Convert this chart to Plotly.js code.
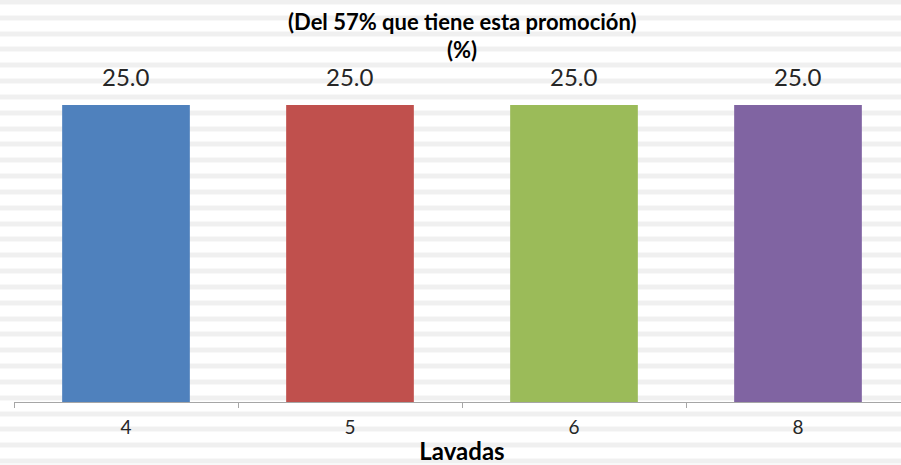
<!DOCTYPE html>
<html>
<head>
<meta charset="utf-8">
<script src="https://cdn.plot.ly/plotly-3.0.1.min.js"></script>
<style>
  html, body { margin: 0; padding: 0; width: 901px; height: 465px; overflow: hidden;
    background: repeating-linear-gradient(to bottom, #f0f0f0 0px, #f0f0f0 5px, #ffffff 5px, #ffffff 15.83px);
    background-position: 0 -0.5px; }
  #chart { width: 910px; height: 465px; }
</style>
</head>
<body>
<div id="chart"></div>
<script>
const categories = ['4', '5', '6', '8'];
const values = [25.0, 25.0, 25.0, 25.0];
const barColors = ['#4f81bd', '#c0504d', '#9bbb59', '#8064a2'];
const titleLines = ['(Del 57% que tiene esta promoción)', '(%)'];
const xTitle = 'Lavadas';

const font = 'Lato, "Open Sans", sans-serif';

const trace = {
  type: 'bar',
  x: categories,
  y: values,
  marker: { color: barColors, line: { width: 0 } },
  hoverinfo: 'x+y'
};

const labelAnnotations = categories.map((c, i) => ({
  x: i, y: values[i], xref: 'x', yref: 'y',
  text: values[i].toFixed(1),
  showarrow: false, yanchor: 'bottom', yshift: 12,
  font: { family: font, size: 24, color: '#262626' }
}));

const plotTop = 0, plotH = 402;
const titleAnnotations = [
  { text: '<b>' + titleLines[0] + '</b>', ypx: 22 },
  { text: '<b>' + titleLines[1] + '</b>', ypx: 50 }
].map(t => ({
  xref: 'paper', yref: 'paper', x: (462 - 14) / 896, y: 1 - (t.ypx - plotTop) / plotH,
  xanchor: 'center', yanchor: 'middle', showarrow: false, text: t.text,
  font: { family: font, size: 22, color: '#000000' }
}));

const layout = {
  width: 910, height: 465,
  margin: { l: 14, r: 0, t: 0, b: 63 },
  paper_bgcolor: 'rgba(0,0,0,0)',
  plot_bgcolor: 'rgba(0,0,0,0)',
  showlegend: false,
  bargap: 0.43,
  xaxis: {
    type: 'category',
    range: [-0.5, categories.length - 0.5],
    tickson: 'boundaries',
    ticks: 'outside', ticklen: 5, tickcolor: '#a6a6a6', tickwidth: 1,
    showline: true, linecolor: '#a6a6a6', linewidth: 1,
    showgrid: false,
    ticklabelstandoff: 8,
    tickfont: { family: font, size: 19, color: '#262626' },
    title: { text: '<b>' + xTitle + '</b>', standoff: 12, font: { family: font, size: 24, color: '#000000' } }
  },
  yaxis: {
    range: [0, 402 / (297 / 25)],
    showgrid: false, zeroline: false, showticklabels: false, showline: false, ticks: ''
  },
  annotations: labelAnnotations.concat(titleAnnotations)
};

Plotly.newPlot('chart', [trace], layout, { displayModeBar: false, staticPlot: true });
</script>
</body>
</html>
